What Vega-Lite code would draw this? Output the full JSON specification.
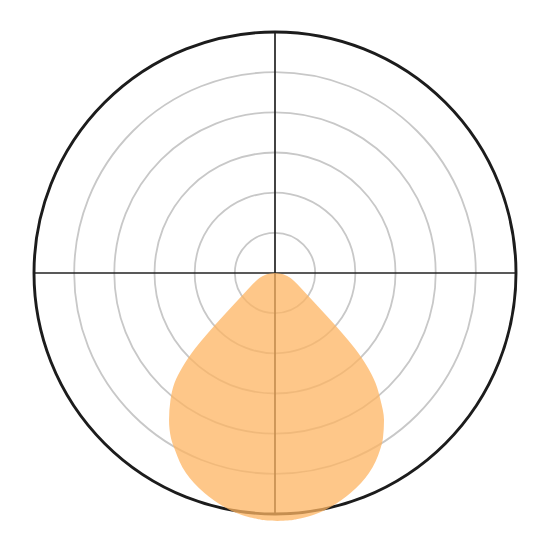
{
  "$schema": "https://vega.github.io/schema/vega-lite/v6.json",
  "width": 550,
  "height": 546,
  "padding": 0,
  "autosize": {"type": "none"},
  "background": "white",
  "config": {"view": {"stroke": null}},
  "datasets": {
    "rings": [{"r": 50}, {"r": 100}, {"r": 150}, {"r": 200}, {"r": 250}],
    "outer": [{"r": 300}],
    "axes": [
      {"x1": -300, "x2": 300, "y1": 0, "y2": 0},
      {"x1": 0, "x2": 0, "y1": -300, "y2": 300}
    ],
    "beam": [
      {"y": 0, "xl": 0, "xr": 0},
      {"y": -1.2, "xl": -8.7, "xr": 8.7},
      {"y": -2.5, "xl": -12.4, "xr": 12.4},
      {"y": -5.0, "xl": -17.4, "xr": 17.4},
      {"y": -10.0, "xl": -23.7, "xr": 23.7},
      {"y": -17.4, "xl": -31.1, "xr": 31.1},
      {"y": -24.9, "xl": -38.0, "xr": 38.0},
      {"y": -33.6, "xl": -46.1, "xr": 46.1},
      {"y": -51.0, "xl": -62.2, "xr": 62.2},
      {"y": -64.7, "xl": -74.7, "xr": 74.7},
      {"y": -74.7, "xl": -83.4, "xr": 83.4},
      {"y": -93.4, "xl": -99.0, "xr": 99.0},
      {"y": -117.0, "xl": -115.1, "xr": 115.1},
      {"y": -136.9, "xl": -125.1, "xr": 125.1},
      {"y": -158.1, "xl": -130.1, "xr": 131.3},
      {"y": -183.0, "xl": -131.9, "xr": 135.7},
      {"y": -205.4, "xl": -129.5, "xr": 134.4},
      {"y": -220.3, "xl": -124.5, "xr": 130.7},
      {"y": -249.0, "xl": -110.8, "xr": 117.0},
      {"y": -261.4, "xl": -100.8, "xr": 107.1},
      {"y": -273.9, "xl": -87.8, "xr": 94.0},
      {"y": -282.6, "xl": -76.6, "xr": 82.8},
      {"y": -291.3, "xl": -62.9, "xr": 69.1},
      {"y": -298.8, "xl": -47.9, "xr": 54.1},
      {"y": -303.7, "xl": -33.0, "xr": 39.2},
      {"y": -306.2, "xl": -21.8, "xr": 28.0},
      {"y": -308.1, "xl": -9.3, "xr": 15.6},
      {"y": -308.7, "xl": 3.1, "xr": 3.1}
    ]
  },
  "layer": [
    {
      "data": {"name": "rings"},
      "mark": {"type": "arc", "theta": 0, "theta2": 6.2832, "filled": false, "stroke": "#c8c8c8", "strokeWidth": 1.8},
      "encoding": {
        "x": {"datum": 0, "type": "quantitative", "scale": {"domain": [-342.3, 342.3], "nice": false}, "axis": null},
        "y": {"datum": 0, "type": "quantitative", "scale": {"domain": [-339.8, 339.8], "nice": false}, "axis": null},
        "radius": {"field": "r", "type": "quantitative", "stack": null, "scale": {"type": "linear", "domain": [0, 300], "range": [0, 241], "zero": true}}
      }
    },
    {
      "data": {"name": "axes"},
      "mark": {"type": "rule", "stroke": "#222222", "strokeWidth": 1.7},
      "encoding": {
        "x": {"field": "x1", "type": "quantitative", "scale": {"domain": [-342.3, 342.3], "nice": false}, "axis": null},
        "x2": {"field": "x2"},
        "y": {"field": "y1", "type": "quantitative", "scale": {"domain": [-339.8, 339.8], "nice": false}, "axis": null},
        "y2": {"field": "y2"}
      }
    },
    {
      "data": {"name": "outer"},
      "mark": {"type": "arc", "theta": 0, "theta2": 6.2832, "filled": false, "stroke": "#1c1c1c", "strokeWidth": 2.9},
      "encoding": {
        "x": {"datum": 0, "type": "quantitative", "scale": {"domain": [-342.3, 342.3], "nice": false}, "axis": null},
        "y": {"datum": 0, "type": "quantitative", "scale": {"domain": [-339.8, 339.8], "nice": false}, "axis": null},
        "radius": {"field": "r", "type": "quantitative", "stack": null, "scale": {"type": "linear", "domain": [0, 300], "range": [0, 241], "zero": true}}
      }
    },
    {
      "data": {"name": "beam"},
      "mark": {"type": "area", "orient": "horizontal", "interpolate": "monotone", "fill": "#fdb462", "fillOpacity": 0.75, "strokeWidth": 0},
      "encoding": {
        "y": {"field": "y", "type": "quantitative", "scale": {"domain": [-339.8, 339.8], "nice": false}, "axis": null},
        "x": {"field": "xl", "type": "quantitative", "scale": {"domain": [-342.3, 342.3], "nice": false}, "axis": null},
        "x2": {"field": "xr"}
      }
    }
  ]
}
